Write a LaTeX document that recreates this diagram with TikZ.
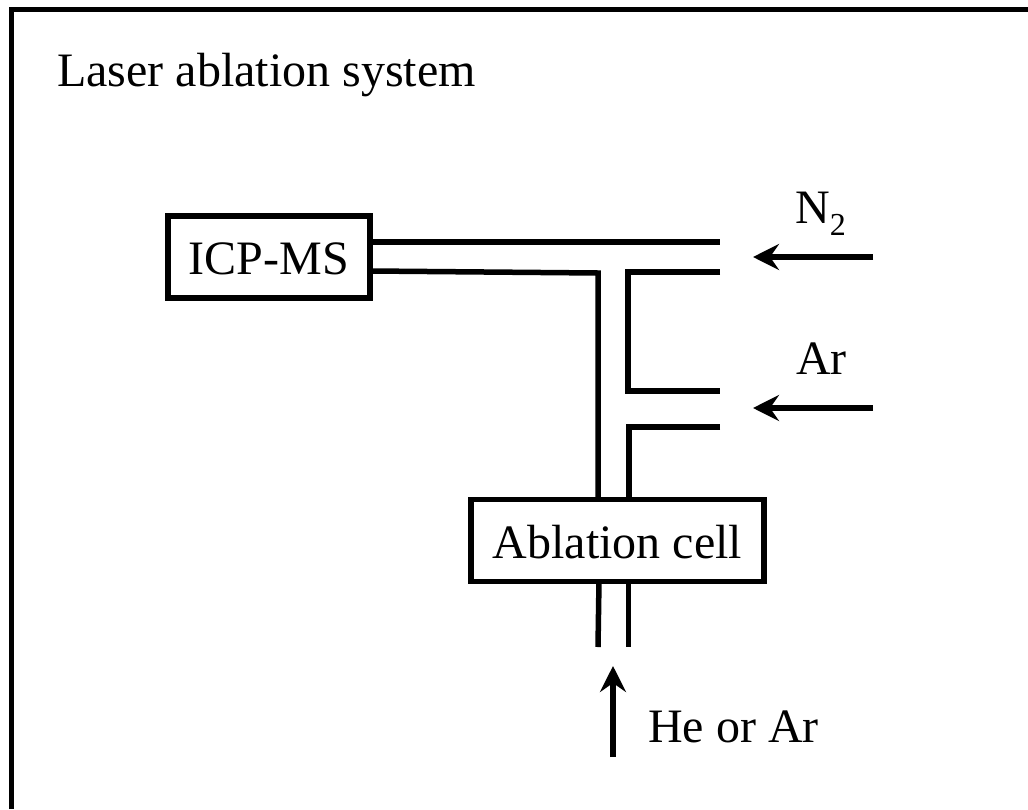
\documentclass[tikz,border=0pt]{standalone}
\usepackage{fontspec}
\setmainfont{Liberation Serif}
\usetikzlibrary{arrows.meta}
\tikzset{
  px/.style={x=1pt,y=-1pt},
  lbl/.style={font=\fontsize{48}{50}\selectfont,inner sep=0pt,text=black},
  boxn/.style={draw=black,line width=5.5pt,inner sep=0pt,lbl,text height=35.5pt,text depth=0pt},
  pipe/.style={draw=black,line width=5.5pt},
  flow/.style={draw=black,line width=5.5pt,-{Stealth[length=26pt,width=26pt,inset=9pt]}}
}
\begin{document}
\begin{tikzpicture}[px]
\useasboundingbox (0,0) rectangle (1028,809);
\fill[white] (0,0) rectangle (1028,809);
\draw[pipe] (11.5,809) -- (11.5,9.5) -- (1028,9.5);
\node[lbl,anchor=base west] (title) at (57,86.5) {Laser ablation system};
\node[boxn,minimum width=202pt,minimum height=82pt] (icp) at (269,257) {ICP-MS};
\node[boxn,minimum width=293pt,minimum height=82pt] (cell) at (617.5,540.5) {Ablation cell};
% pipe end points
\coordinate (t1) at (371,242);
\coordinate (t2) at (720,242);
\coordinate (b1) at (371,271);
\coordinate (b2) at (598,273);
\coordinate (b3) at (598,497);
\coordinate (c1) at (720,272);
\coordinate (c2) at (628,272);
\coordinate (c3) at (628,391);
\coordinate (c4) at (720,391);
\coordinate (d1) at (720,427);
\coordinate (d2) at (629,427);
\coordinate (d3) at (629,497);
\coordinate (e1) at (599,581);
\coordinate (e2) at (598,647);
\coordinate (f1) at (628.5,581);
\coordinate (f2) at (628.5,647);
\draw[pipe] (t1) -- (t2);
\draw[pipe] (b1) -- (b2) -- (b3);
\draw[pipe] (c1) -- (c2) -- (c3) -- (c4);
\draw[pipe] (d1) -- (d2) -- (d3);
\draw[pipe] (e1) -- (e2);
\draw[pipe] (f1) -- (f2);
\coordinate (n2s) at (873,257);
\coordinate (n2e) at (753,257);
\coordinate (ars) at (873,408);
\coordinate (are) at (753,408);
\coordinate (hes) at (613,757);
\coordinate (hee) at (613,666);
\draw[flow] (n2s) -- (n2e);
\draw[flow] (ars) -- (are);
\draw[flow] (hes) -- (hee);
\node[lbl,anchor=base west] (n2) at (795,223) {N\raisebox{-12pt}{\fontsize{32}{32}\selectfont 2}};
\node[lbl,anchor=base west] (ar) at (796,374) {Ar};
\node[lbl,anchor=base west] (he) at (648,742) {He or Ar};
\end{tikzpicture}
\end{document}
